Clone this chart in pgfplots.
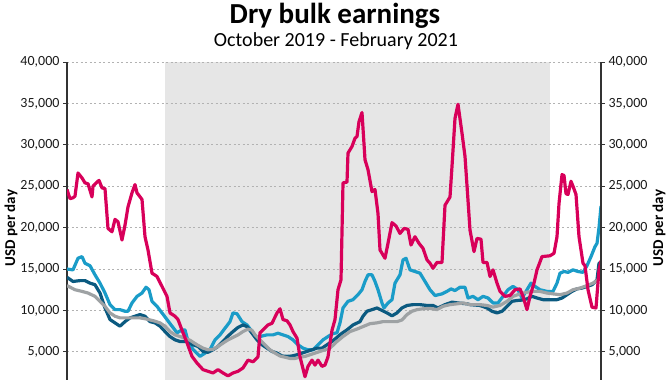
\documentclass[border=0pt]{standalone}
\usepackage{pgfplots}
\pgfplotsset{compat=1.18}
\usepackage{fontspec}
\setmainfont{Carlito}
\definecolor{cred}{HTML}{D8005A}
\definecolor{clblue}{HTML}{1A9CC8}
\definecolor{cdblue}{HTML}{0B5A80}
\definecolor{cgray}{HTML}{9EA2A4}
\definecolor{cband}{HTML}{E6E6E6}
\pgfplotsset{
  common/.style={
    at={(67pt,0pt)}, anchor=south west, scale only axis,
    width=534pt, height=318pt,
    xmin=67, xmax=601, ymin=1600, ymax=40000,
    ytick={5000,10000,...,40000},
    scaled y ticks=false,
    yticklabel style={font=\fontsize{14}{14}\selectfont, text=black!90,
      /pgf/number format/fixed, /pgf/number format/1000 sep={,}, /pgf/number format/assume math mode=true},
    tick align=outside, major tick length=4pt,
    tick style={black!80, line width=0.8pt},
    axis line style={-, black!80, line width=1.3pt},
    axis x line=none,
  }
}
\begin{document}
\begin{tikzpicture}
\begin{axis}[common, set layers, axis y line*=left,
  ymajorgrids, grid style={black!30, line width=0.8pt, dash pattern=on 2pt off 2.5pt}]
\addplot[fill=cband, draw=none, on layer=axis background] coordinates {(165,1600) (165,40000) (550,40000) (550,1600)};
% light blue
\addplot[clblue, line width=3.2pt, line join=round] coordinates {
(67,15000)(73,14900)(78,16300)(82,16500)(85,15700)(90,15400)(95,14300)(100,13300)(105,12100)(110,10700)(115,10100)(120,10100)(125,9900)(128,9900)(132,10900)(137,11700)(142,12100)(146,12800)(149,12500)(152,11100)(157,10500)(162,9700)(167,8900)(172,8100)(177,7300)(182,7650)(185,7650)(188,6300)(193,5300)(198,4700)(200,4450)(205,4850)(210,5250)(215,6450)(220,7050)(225,7850)(230,8650)(233,9700)(237,9600)(242,8650)(247,8250)(252,7450)(257,6650)(260,6850)(267,7050)(273,7050)(278,7250)(283,7050)(288,6850)(293,6450)(298,5850)(303,5450)(308,5250)(313,5250)(318,5850)(323,6450)(328,6850)(333,7200)(337,7300)(340,8500)(343,10300)(348,11100)(353,11300)(358,11900)(362,12500)(365,13500)(368,14300)(372,14300)(375,13500)(378,12500)(382,10900)(384,10300)(388,10900)(392,11300)(395,13300)(400,14300)(403,16100)(406,16300)(410,14900)(415,14700)(420,14500)(425,13500)(430,12500)(435,11800)(442,12000)(447,12300)(451,12600)(455,12400)(460,12800)(465,12800)(468,11500)(473,11700)(478,11300)(483,11700)(488,11500)(493,10900)(498,10900)(503,11700)(508,12500)(513,12900)(518,12500)(522,11500)(527,12500)(531,13300)(535,12900)(540,12500)(547,12300)(553,12300)(557,13300)(560,14500)(564,14700)(568,14600)(573,14900)(578,14700)(583,14600)(587,15400)(591,16500)(595,17700)(597,18100)(599,20000)(601,22600)};
% dark blue
\addplot[cdblue, line width=3.2pt, line join=round] coordinates {
(67,14000)(73,13500)(80,13600)(85,13600)(90,13300)(95,13100)(100,12100)(105,10300)(110,8900)(115,8500)(120,8100)(125,8650)(130,9100)(135,9300)(140,9500)(145,9300)(150,8650)(155,8500)(160,8100)(165,7450)(170,6850)(175,6450)(180,6250)(187,6250)(193,5850)(198,5650)(203,5050)(208,4950)(213,5250)(218,5650)(223,6250)(228,6900)(233,7450)(238,7950)(243,8250)(247,8050)(252,7250)(257,6450)(262,5850)(267,5450)(272,5050)(277,4850)(282,4500)(287,4450)(292,4500)(297,4650)(302,4850)(307,5050)(312,5250)(317,5450)(322,5450)(327,5850)(332,6250)(337,6750)(342,7250)(347,7650)(353,8250)(360,8650)(363,9300)(367,9900)(372,10100)(377,10300)(382,10000)(387,9700)(392,9350)(397,9700)(402,10300)(407,10600)(413,10700)(420,10700)(427,10600)(433,10600)(438,10300)(445,10700)(452,11000)(458,10900)(467,10800)(470,10700)(480,10600)(487,10300)(492,9900)(497,9700)(502,9900)(507,10500)(512,11100)(517,11200)(522,11250)(527,11400)(532,11700)(537,11500)(543,11300)(550,11300)(557,11300)(562,11500)(567,11900)(572,12300)(577,12600)(582,12700)(587,12900)(592,13100)(597,13700)(599,15700)(601,15800)};
% gray
\addplot[cgray, line width=3.2pt, line join=round] coordinates {
(67,13000)(75,12500)(82,12300)(88,12100)(95,11700)(100,11100)(105,10500)(110,9700)(115,9300)(120,9100)(140,9100)(145,9000)(150,8850)(155,8700)(160,8500)(165,8100)(170,7450)(175,7050)(180,6850)(185,6650)(190,6400)(197,5850)(203,5450)(208,5250)(213,5300)(218,5650)(223,6050)(228,6450)(233,6750)(238,7050)(243,7450)(248,7750)(252,7600)(255,7050)(260,6450)(265,5850)(270,5250)(275,4850)(280,4500)(285,4350)(290,4200)(295,4200)(300,4350)(305,4450)(310,4650)(315,4850)(320,5050)(325,5250)(330,5450)(337,6250)(343,6850)(350,7450)(357,7750)(363,8050)(370,8400)(377,8500)(383,8650)(397,8650)(402,8850)(407,9500)(412,9900)(417,10100)(423,10200)(430,10250)(437,10100)(443,10500)(450,10700)(457,10800)(463,10900)(470,10700)(480,10700)(487,10600)(493,10400)(500,10600)(507,11100)(513,11700)(520,12000)(527,12200)(533,12300)(540,12300)(547,12100)(553,12000)(560,11900)(567,12100)(573,12500)(580,12700)(587,13000)(593,13300)(598,13700)(601,14500)};
% red
\addplot[cred, line width=3.2pt, line join=round] coordinates {
(67,24600)(70,23500)(73,23600)(75,23800)(78,26600)(82,26000)(85,25400)(88,25300)(92,23700)(93,25000)(97,25500)(99,25700)(102,24800)(105,24700)(108,19900)(112,19500)(115,21000)(118,20700)(122,18500)(125,20300)(128,22500)(132,24200)(135,25200)(137,24200)(142,23400)(145,18900)(148,17300)(152,14500)(157,14100)(162,12900)(167,11700)(170,9700)(175,9300)(178,8900)(183,7300)(187,6100)(192,4450)(197,3650)(203,2850)(208,2650)(213,2450)(218,2850)(223,2450)(228,2100)(233,2450)(238,2650)(243,3060)(248,4000)(253,3800)(258,4400)(260,7300)(263,7650)(268,8250)(272,8450)(277,9700)(280,10200)(283,8900)(287,8750)(290,8250)(293,7450)(297,6650)(300,4400)(305,2000)(308,3250)(312,4000)(315,3400)(318,4000)(322,3250)(325,3400)(328,4400)(332,7600)(335,8900)(338,12500)(341,13700)(343,25400)(347,25500)(348,29000)(352,29800)(355,30800)(357,31000)(359,32800)(362,33900)(365,28200)(368,27000)(372,24350)(375,24600)(378,21700)(380,17300)(385,16300)(388,18100)(392,20600)(396,20200)(400,19300)(404,19900)(408,19800)(411,17900)(415,18900)(419,18100)(423,17500)(427,16100)(430,15700)(433,15100)(437,15800)(442,15800)(445,22700)(450,23700)(452,27400)(455,33200)(458,34900)(462,31400)(465,28600)(468,23300)(470,19700)(474,17100)(477,18700)(481,18600)(483,15800)(487,15800)(490,14100)(493,14900)(497,13300)(500,12300)(505,11700)(510,11800)(515,12500)(520,12600)(523,11700)(527,10100)(530,11700)(534,13300)(537,14900)(542,16500)(550,16600)(554,16900)(557,18900)(559,22900)(562,26400)(564,26300)(566,24100)(568,24000)(571,25600)(573,25000)(576,24000)(579,18900)(583,15700)(585,15400)(588,12500)(592,10400)(596,10300)(599,14900)(601,16000)};
\end{axis}
\begin{axis}[common, axis y line*=right]
\addplot[draw=none] coordinates {(67,1600)};
\end{axis}
\node[font=\fontsize{15}{15}\selectfont\bfseries, rotate=90] at (11pt,152pt) {USD per day};
\node[font=\fontsize{15}{15}\selectfont\bfseries, rotate=90] at (659pt,152pt) {USD per day};
\node[font=\fontsize{29}{29}\selectfont\bfseries] at (335pt,364pt) {Dry bulk earnings};
\node[font=\fontsize{20}{20}\selectfont] at (336pt,339pt) {October 2019 - February 2021};
\pgfresetboundingbox
\path[use as bounding box] (0pt,0pt) rectangle (670pt,380pt);
\end{tikzpicture}
\end{document}
